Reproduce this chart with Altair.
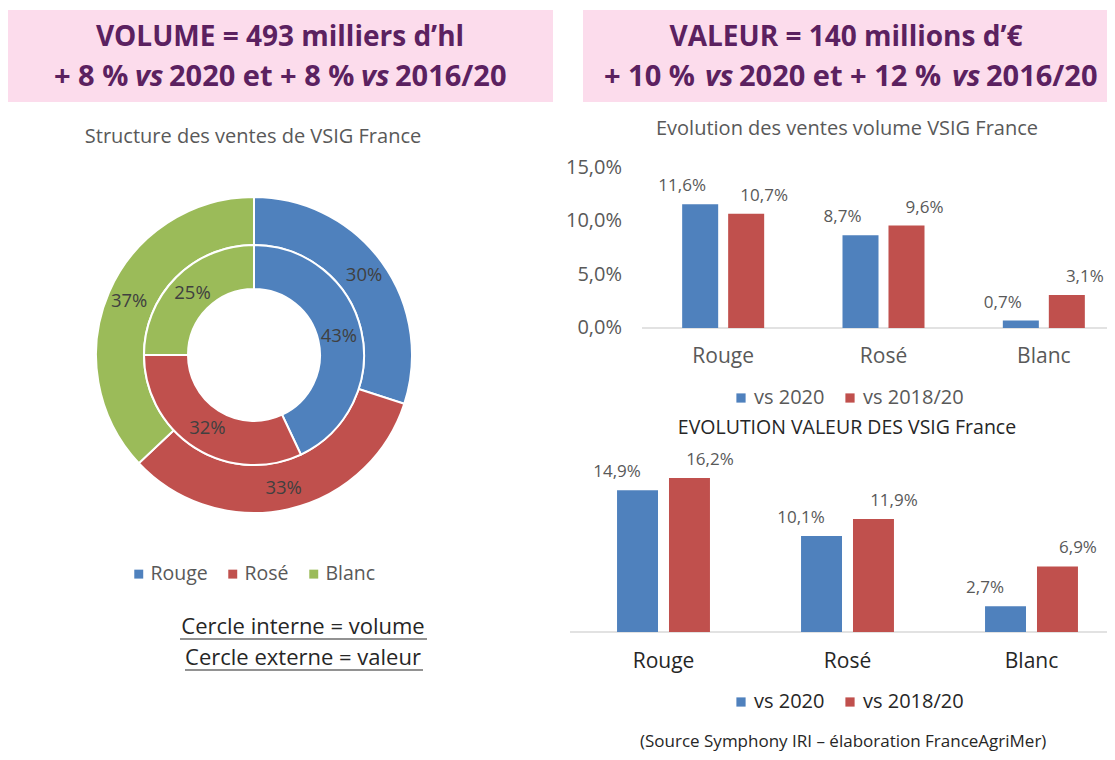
import altair as alt
import pandas as pd

# ---------------- data ----------------
categories = ["Rouge", "Rosé", "Blanc"]
volume_share = [43, 32, 25]      # inner ring (volume)
value_share = [30, 33, 37]       # outer ring (valeur)
series = ["vs 2020", "vs 2018/20"]
vol_vs2020 = [11.6, 8.7, 0.7]
vol_vs1820 = [10.7, 9.6, 3.1]
val_vs2020 = [14.9, 10.1, 2.7]
val_vs1820 = [16.2, 11.9, 6.9]
vol_ticks = [0, 5, 10, 15]

cat_colors = ["#4f81bd", "#c0504d", "#9bbb59"]
ser_colors = ["#4f81bd", "#c0504d"]

FONT = "Open Sans"
GREY = "#595959"
DARK = "#262626"
PURPLE = "#5b2160"
PINK = "#fcdcec"


def px(x):
    return x - 8


def py(y):
    return y - 8


def fr(v):
    return f"{v:.1f}%".replace(".", ",")


one = pd.DataFrame({"d": [0]})

# ---------------- header boxes ----------------
def htext(txt, x, y, fs, align="center", style="normal"):
    return alt.Chart(one).mark_text(font=FONT, fontSize=fs, fontWeight="bold", fontStyle=style,
                                    color=PURPLE, align=align).encode(
        x=alt.value(px(x)), y=alt.value(py(y)), text=alt.value(txt))


def box(x1, x2, l1, xc, segs):
    r = alt.Chart(one).mark_rect(color=PINK).encode(
        x=alt.value(px(x1)), x2=alt.value(px(x2)), y=alt.value(py(10)), y2=alt.value(py(102)))
    out = [r, htext(l1, xc, 38, 28)]
    for txt, xs, st in segs:
        out.append(htext(txt, xs, 77, 29, align="left", style=st))
    return out


header = box(8, 553, "VOLUME = 493 milliers d’hl", 280,
             [("+ 8 %", 54, "normal"), ("vs", 135, "italic"), ("2020 et + 8 %", 169, "normal"),
              ("vs", 361, "italic"), ("2016/20", 395, "normal")]) + \
    box(583, 1120, "VALEUR = 140 millions d’€", 846,
        [("+ 10 %", 604, "normal"), ("vs", 705, "italic"), ("2020 et + 12 %", 739, "normal"),
         ("vs", 952, "italic"), ("2016/20", 986, "normal")])

# ---------------- donut ----------------
cx, cy = px(254), py(355)
inner_df = pd.DataFrame({"cat": categories, "share": volume_share, "ord": [0, 1, 2],
                         "label": [f"{v}%" for v in volume_share]})
outer_df = pd.DataFrame({"cat": categories, "share": value_share, "ord": [0, 1, 2],
                         "label": [f"{v}%" for v in value_share]})

cat_scale = alt.Scale(domain=categories, range=cat_colors)
donut_legend = alt.Legend(orient="none", legendX=px(129), legendY=py(564), direction="horizontal",
                          title=None, symbolType="square", symbolSize=80, symbolStrokeWidth=0,
                          labelFont=FONT, labelFontSize=19.5, labelColor=GREY, columnPadding=15,
                          labelOffset=2)


def ring(df, r1, r2, rlab, legend):
    arc = alt.Chart(df).mark_arc(radius=r1, radius2=r2, stroke="white", strokeWidth=2).encode(
        theta=alt.Theta("share:Q", stack=True),
        color=alt.Color("cat:N", scale=cat_scale, legend=legend),
        order=alt.Order("ord:Q"),
        x=alt.value(cx), y=alt.value(cy))
    lab = alt.Chart(df).mark_text(radius=rlab, font=FONT, fontSize=18.5, color="#404040").encode(
        theta=alt.Theta("share:Q", stack=True),
        detail="cat:N",
        order=alt.Order("ord:Q"),
        text="label:N",
        x=alt.value(cx), y=alt.value(cy))
    return [arc, lab]


donut = ring(outer_df, 158, 110, 136, None) + ring(inner_df, 110, 66, 87, donut_legend)
donut_title = alt.Chart(one).mark_text(font=FONT, fontSize=20, color=GREY).encode(
    x=alt.value(px(253)), y=alt.value(py(137)), text=alt.value("Structure des ventes de VSIG France"))

notes = []
for txt, yy, xa, xb in [("Cercle  interne = volume", 627, 180, 427), ("Cercle  externe = valeur", 658, 185, 423)]:
    notes.append(alt.Chart(one).mark_text(font=FONT, fontSize=22, color=DARK).encode(
        x=alt.value(px(303)), y=alt.value(py(yy)), text=alt.value(txt)))
    notes.append(alt.Chart(one).mark_rule(color=DARK, strokeWidth=1.2).encode(
        x=alt.value(px(xa)), x2=alt.value(px(xb)), y=alt.value(py(yy + 12))))

# ---------------- bar charts ----------------
def bars(v1, v2, x0, x1, pin, qin, ydom, yrng, cat_y, cat_color, leg_y, leg_color, title, title_y,
         title_fs, title_color, base_x0, show_ticks):
    df = pd.DataFrame({"cat": categories * 2,
                       "serie": [series[0]] * 3 + [series[1]] * 3,
                       "val": v1 + v2})
    df["label"] = df["val"].map(fr)
    xs = alt.Scale(domain=categories, range=[px(x0), px(x1)], paddingInner=pin, paddingOuter=pin / 2)
    xo = alt.Scale(domain=series, paddingInner=qin, paddingOuter=0)
    ys = alt.Scale(domain=ydom, range=[py(yrng[0]), py(yrng[1])], nice=False, zero=True)
    X = alt.X("cat:N", sort=categories, scale=xs, axis=None)
    XO = alt.XOffset("serie:N", sort=series, scale=xo)
    Y = alt.Y("val:Q", scale=ys, axis=None)
    leg = alt.Legend(orient="none", legendX=px(731), legendY=py(leg_y), direction="horizontal",
                     title=None, symbolType="square", symbolSize=85, symbolStrokeWidth=0,
                     labelFont=FONT, labelFontSize=20, labelColor=leg_color, columnPadding=15,
                     labelOffset=3)
    b = alt.Chart(df).mark_bar().encode(
        x=X, xOffset=XO, y=Y,
        color=alt.Color("serie:N", sort=series, scale=alt.Scale(domain=series, range=ser_colors), legend=leg))
    lab = alt.Chart(df).mark_text(font=FONT, fontSize=17, color=GREY, baseline="middle", dy=-18).encode(
        x=X, xOffset=XO, y=Y, text="label:N")
    base_df = pd.DataFrame({"val": [0]})
    base = alt.Chart(base_df).mark_rule(color="#d9d9d9", strokeWidth=1.5).encode(
        y=Y, x=alt.value(px(base_x0)), x2=alt.value(px(1120)))
    cats = alt.Chart(pd.DataFrame({"cat": categories})).mark_text(
        font=FONT, fontSize=21, color=cat_color).encode(
        x=X, y=alt.value(py(cat_y)), text="cat:N")
    ttl = alt.Chart(one).mark_text(font=FONT, fontSize=title_fs, color=title_color).encode(
        x=alt.value(px(847)), y=alt.value(py(title_y)), text=alt.value(title))
    out = [base, b, lab, cats, ttl]
    if show_ticks:
        tdf = pd.DataFrame({"val": vol_ticks, "t": [fr(t) for t in vol_ticks]})
        out.append(alt.Chart(tdf).mark_text(font=FONT, fontSize=20, color=GREY, align="right").encode(
            y=Y, x=alt.value(px(622)), text="t:N"))
    return out


vol_chart = bars(vol_vs2020, vol_vs1820, 643, 1124, 0.4885, 0.217, [0, 15], [328, 168], 357, GREY,
                 388, GREY, "Evolution des ventes volume VSIG France", 129, 20, GREY, 642, True)
val_chart = bars(val_vs2020, val_vs1820, 571.5, 1123.5, 0.495, 0.2115, [0, 16.2], [632, 478], 662, DARK,
                 692, DARK, "EVOLUTION VALEUR DES VSIG France", 428, 19.5, DARK, 570, False)

source = alt.Chart(one).mark_text(font=FONT, fontSize=17, color=DARK, align="left").encode(
    x=alt.value(px(640)), y=alt.value(py(742)), text=alt.value("(Source Symphony IRI – élaboration  FranceAgriMer)"))

layers = header + [donut_title] + donut + notes + vol_chart + val_chart + [source]

chart = alt.layer(*layers).resolve_scale(
    x="independent", y="independent", color="independent", theta="independent", xOffset="independent"
).resolve_legend(color="independent").properties(
    width=1099, height=744, autosize=alt.AutoSizeParams(type="none"), padding=0
).configure_view(stroke=None)

chart.save("out.html", embed_options={"renderer": "svg", "actions": False})
